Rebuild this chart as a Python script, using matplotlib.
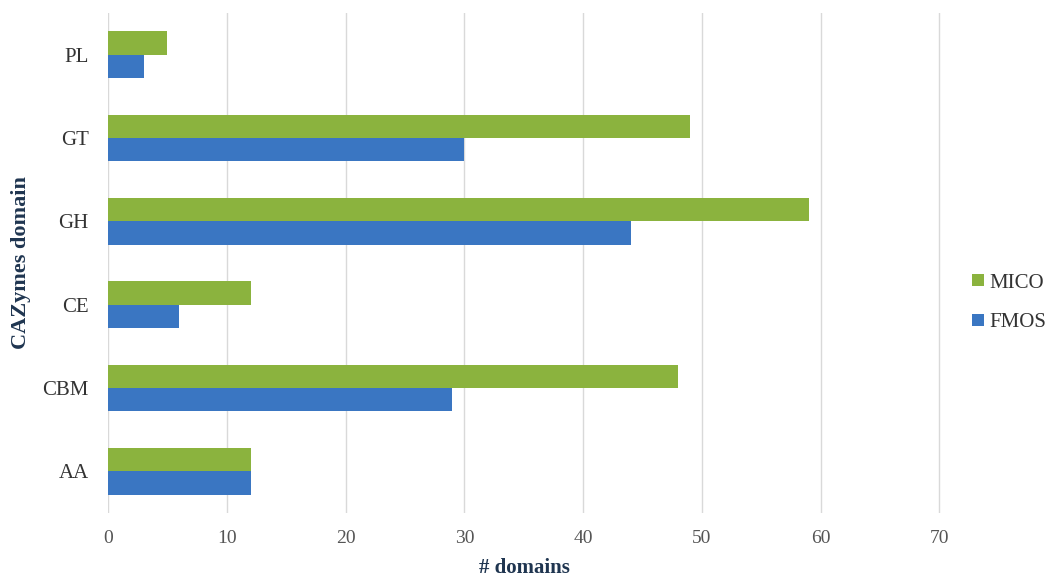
import matplotlib.pyplot as plt
import numpy as np

categories = ['AA', 'CBM', 'CE', 'GH', 'GT', 'PL']
mico = [12, 48, 12, 59, 49, 5]
fmos = [12, 29, 6, 44, 30, 3]
xticks = [0, 10, 20, 30, 40, 50, 60, 70]

green = '#8bb33e'
blue = '#3a76c2'
label_col = '#1f3550'
tick_col = '#555555'
serif = ['Liberation Serif', 'DejaVu Serif']

fig = plt.figure(figsize=(10.56, 5.82), dpi=100)
ax = fig.add_axes([0.1023, 0.1186, 0.789, 0.8591])

y = np.arange(len(categories))
h = 0.28
ax.barh(y + h / 2, mico, height=h, color=green, label='MICO', zorder=3)
ax.barh(y - h / 2, fmos, height=h, color=blue, label='FMOS', zorder=3)

ax.set_xlim(0, 70.15)
ax.set_ylim(-0.5, len(categories) - 0.5)
ax.set_xticks(xticks)
ax.set_yticks(y)
ax.set_yticklabels(categories, family=serif, fontsize=15, color='#333333')
ax.set_xticklabels([str(t) for t in xticks], family=serif, fontsize=14, color=tick_col)
ax.tick_params(length=0, pad=12)
ax.tick_params(axis='y', pad=14)
ax.grid(axis='x', color='#d9d9d9', linewidth=1, zorder=0)
for s in ax.spines.values():
    s.set_visible(False)

ax.set_xlabel('# domains', family=serif, fontsize=15, fontweight='bold',
              color=label_col, labelpad=8)
ax.set_ylabel('CAZymes domain', family=serif, fontsize=16, fontweight='bold',
              color=label_col)
ax.yaxis.set_label_coords(-0.093, 0.5)

leg = ax.legend(loc='center left', bbox_to_anchor=(1.025, 0.42), frameon=False,
                prop={'family': serif, 'size': 15}, handlelength=0.55,
                handleheight=0.55, handletextpad=0.25, labelspacing=1.0,
                borderpad=0)
for t in leg.get_texts():
    t.set_color('#333333')

fig.savefig('out.png', dpi=100)
